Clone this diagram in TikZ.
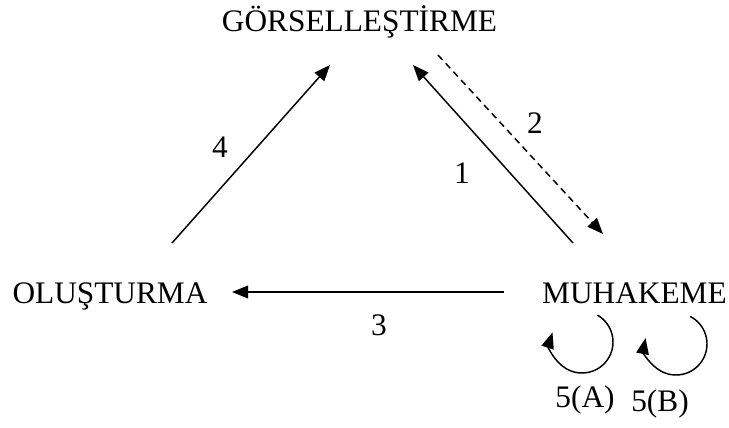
\documentclass[tikz,border=0pt]{standalone}
\usepackage{fontspec}
\setmainfont{Liberation Serif}
\usetikzlibrary{arrows.meta}
\begin{document}
\begin{tikzpicture}[x=0.75pt,y=-0.75pt,
  lbl/.style={inner sep=0pt,anchor=base,font=\fontsize{23.5}{28}\selectfont},
  conn/.style={line width=1.1pt,-{Triangle[length=12pt,width=9.5pt]}},
  dconn/.style={conn,dash pattern=on 5pt off 3.5pt}]
\useasboundingbox (0,0) rectangle (729,428);
% text nodes
\node[lbl] (gor) at (359.5,32) {GÖRSELLEŞTİRME};
\node[lbl] (olu) at (110,303) {OLUŞTURMA};
\node[lbl] (muh) at (634.5,303) {MUHAKEME};
% number labels
\node[lbl] (n4) at (220,157) {4};
\node[lbl] (n1) at (462,184) {1};
\node[lbl] (n2) at (535,133) {2};
\node[lbl] (n3) at (379,335) {3};
\node[lbl] (n5a) at (585,407) {5(A)};
\node[lbl] (n5b) at (660,411) {5(B)};
% connector end points
\coordinate (a4s) at (172,243);
\coordinate (a4e) at (330,65);
\coordinate (a1s) at (573,243);
\coordinate (a1e) at (413,65);
\coordinate (a2s) at (438,55);
\coordinate (a2e) at (603,234);
\coordinate (a3s) at (504,292);
\coordinate (a3e) at (232,292);
\draw[conn] (a4s) -- (a4e);
\draw[conn] (a1s) -- (a1e);
\draw[dconn] (a2s) -- (a2e);
\draw[conn] (a3s) -- (a3e);
% loops
\coordinate (la) at (582,342);
\coordinate (lb) at (676,344);
\draw[conn] ([shift={(-60:31)}]la) arc[start angle=-60,end angle=198,radius=31];
\draw[conn] ([shift={(-63:31)}]lb) arc[start angle=-63,end angle=191,radius=31];
\end{tikzpicture}
\end{document}
